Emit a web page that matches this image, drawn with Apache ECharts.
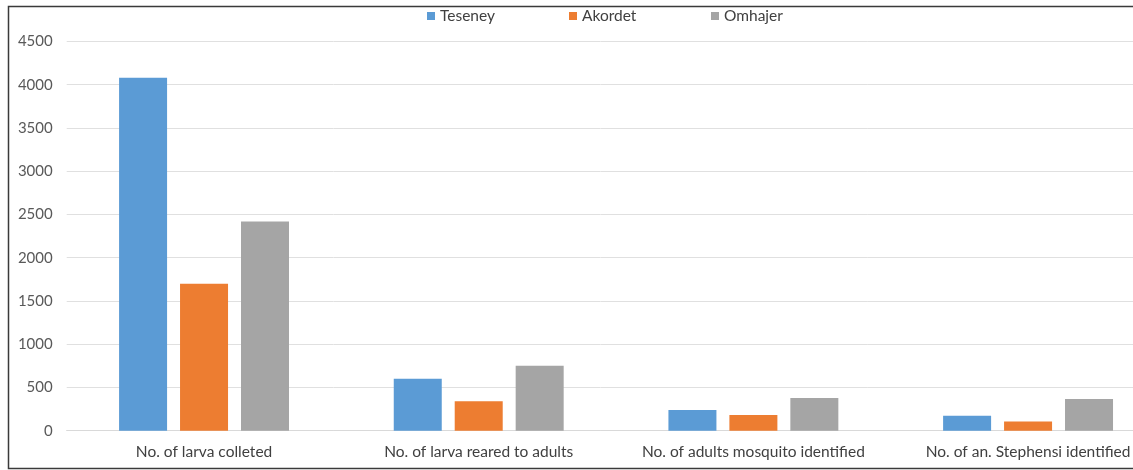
<!DOCTYPE html>
<html>
<head>
<meta charset="utf-8">
<script src="https://cdn.jsdelivr.net/npm/echarts@6/dist/echarts.min.js"></script>
<style>
html,body{margin:0;padding:0;background:#fff;}
#chart{width:1133px;height:470px;}
</style>
</head>
<body>
<div id="chart"></div>
<script>
const categories = ["No. of larva colleted", "No. of larva reared to adults", "No. of adults mosquito identified", "No. of an. Stephensi identified"];
const teseney = [4080, 600, 240, 173];
const akordet = [1700, 340, 181, 105];
const omhajer = [2420, 750, 378, 366];
const yTicks = { min: 0, max: 4500, interval: 500 };

const FONT = 'Lato';
const chart = echarts.init(document.getElementById('chart'), null, { renderer: 'canvas' });
const legendText = { color: '#404040', fontSize: 15.5, fontFamily: FONT };
function mkLegend(name, left) {
  return { data: [name], left: left, top: 8, itemWidth: 8, itemHeight: 8, itemGap: 5,
    icon: 'rect', textStyle: legendText, padding: 0 };
}
chart.setOption({
  animation: false,
  backgroundColor: '#fff',
  color: ['#5B9BD5', '#ED7D31', '#A5A5A5'],
  graphic: [{ type: 'polyline', shape: { points: [[1300, 6.5], [8.5, 6.5], [8.5, 468.5], [1300, 468.5]] },
    style: { fill: null, stroke: '#3a3a3a', lineWidth: 1.5 }, silent: true }],
  legend: [mkLegend('Teseney', 427), mkLegend('Akordet', 569), mkLegend('Omhajer', 711)],
  grid: { left: 66.7, width: 1098.7, top: 41.5, height: 389.2, containLabel: false, outerBoundsMode: 'none' },
  xAxis: {
    type: 'category', data: categories,
    axisLine: { lineStyle: { color: '#d9d9d9', width: 1 } },
    axisTick: { show: false },
    axisLabel: { color: '#404040', fontSize: 15.5, fontFamily: FONT, margin: 13, interval: 0 }
  },
  yAxis: {
    type: 'value', min: yTicks.min, max: yTicks.max, interval: yTicks.interval,
    axisLine: { show: false }, axisTick: { show: false },
    splitLine: { lineStyle: { color: '#e0e0e0', width: 1 } },
    axisLabel: { color: '#595959', fontSize: 15, fontFamily: FONT, margin: 14,
      formatter: function (v) { return String(v); } }
  },
  series: [
    { name: 'Teseney', type: 'bar', data: teseney, barWidth: 48, barGap: '27%' },
    { name: 'Akordet', type: 'bar', data: akordet, barWidth: 48, barGap: '27%' },
    { name: 'Omhajer', type: 'bar', data: omhajer, barWidth: 48, barGap: '27%' }
  ]
});
</script>
</body>
</html>
